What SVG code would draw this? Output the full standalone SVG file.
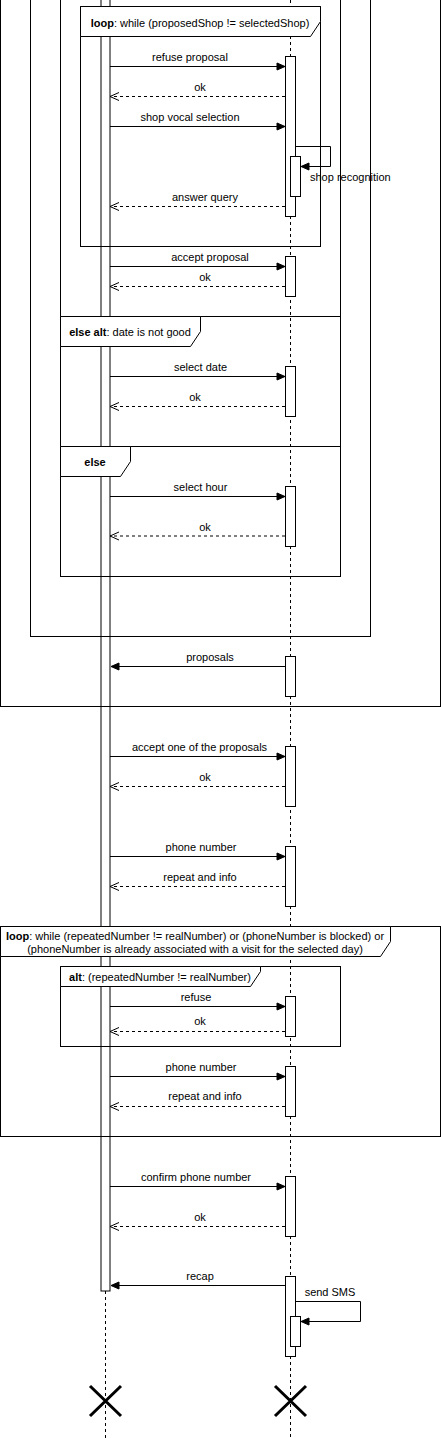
<svg xmlns="http://www.w3.org/2000/svg" width="441" height="1438" viewBox="0 0 441 1438">
<style>
.life{stroke:#000;stroke-width:1;stroke-dasharray:3 3;fill:none}
.bar{fill:#fff;stroke:#000;stroke-width:1}
.act{fill:#fff;stroke:#000;stroke-width:1}
.frame{fill:none;stroke:#000;stroke-width:1}
.hdr{fill:#fff;stroke:#000;stroke-width:1}
.msg{fill:none;stroke:#000;stroke-width:1;marker-end:url(#fill)}
.ret{fill:none;stroke:#000;stroke-width:1;stroke-dasharray:3 3;marker-end:url(#open)}
.x{stroke:#000;stroke-width:3;fill:none}
text{font-family:"Liberation Sans",Arial,Helvetica,sans-serif;font-size:11px;fill:#000}
.c{text-anchor:middle}
.b{font-weight:bold}
</style>
<defs>
<marker id="fill" markerUnits="userSpaceOnUse" markerWidth="10" markerHeight="9" refX="8" refY="3.5" orient="auto" overflow="visible">
<path d="M0,0 L8,3.5 L0,7 Z" fill="#000" stroke="#000" stroke-width="1"/>
</marker>
<marker id="open" markerUnits="userSpaceOnUse" markerWidth="11" markerHeight="10" refX="9" refY="4" orient="auto" overflow="visible">
<path d="M0,0 L9,4 L0,8" fill="none" stroke="#000" stroke-width="1"/>
</marker>
</defs>

<g id="lifeline-user">
<line class="life" x1="105.5" y1="1291" x2="105.5" y2="1438"/>
<rect class="bar" x="101" y="-10" width="9" height="1301"/>
<path class="x" d="M90,1386 L121,1416 M121,1386 L90,1416"/>
</g>
<g id="lifeline-system">
<line class="life" x1="290.5" y1="0" x2="290.5" y2="1438"/>
<path class="x" d="M275,1386 L306,1416 M306,1386 L275,1416"/>
</g>

<g id="frame-outer">
<rect class="frame" x="0.5" y="-20" width="440" height="726.5"/>
</g>
<g id="frame-second">
<rect class="frame" x="30.5" y="-20" width="340" height="656.5"/>
</g>
<g id="frame-alt-date">
<rect class="frame" x="60.5" y="-20" width="280" height="596.5"/>
<line class="frame" x1="60.5" y1="316.5" x2="340.5" y2="316.5"/>
<line class="frame" x1="60.5" y1="446.5" x2="340.5" y2="446.5"/>
<polygon class="hdr" points="60.5,316.5 200.5,316.5 200.5,331.5 190.5,346.5 60.5,346.5"/>
<text class="c" x="130" y="336"><tspan class="b">else alt</tspan>: date is not good</text>
<polygon class="hdr" points="60.5,446.5 130.5,446.5 130.5,461.5 120.5,476.5 60.5,476.5"/>
<text class="c b" x="95" y="466">else</text>
</g>
<g id="frame-loop-shop">
<rect class="frame" x="80.5" y="6.5" width="240" height="240"/>
<polygon class="hdr" points="80.5,6.5 320.5,6.5 320.5,21.5 310.5,36.5 80.5,36.5"/>
<text class="c" x="200" y="26.5"><tspan class="b">loop</tspan>: while (proposedShop != selectedShop)</text>
</g>
<g id="frame-loop-phone">
<rect class="frame" x="0.5" y="926.5" width="440" height="210"/>
<polygon class="hdr" points="0.5,926.5 390.5,926.5 390.5,941.5 380.5,956.5 0.5,956.5"/>
<text class="c" x="195" y="939.5"><tspan class="b">loop</tspan>: while (repeatedNumber != realNumber) or (phoneNumber is blocked) or</text>
<text class="c" x="195" y="953">(phoneNumber is already associated with a visit for the selected day)</text>
</g>
<g id="frame-alt-number">
<rect class="frame" x="60.5" y="966.5" width="280" height="80"/>
<polygon class="hdr" points="60.5,966.5 260.5,966.5 260.5,971.5 250.5,986.5 60.5,986.5"/>
<text class="c" x="160" y="981"><tspan class="b">alt</tspan>: (repeatedNumber != realNumber)</text>
</g>

<g id="activations">
<rect class="act" x="285.5" y="56.5" width="10" height="160"/>
<rect class="act" x="290.5" y="156.5" width="10" height="40"/>
<rect class="act" x="285.5" y="256.5" width="10" height="40"/>
<rect class="act" x="285.5" y="366.5" width="10" height="50"/>
<rect class="act" x="285.5" y="486.5" width="10" height="60"/>
<rect class="act" x="285.5" y="656.5" width="10" height="40"/>
<rect class="act" x="285.5" y="746.5" width="10" height="60"/>
<rect class="act" x="285.5" y="846.5" width="10" height="60"/>
<rect class="act" x="285.5" y="996.5" width="10" height="40"/>
<rect class="act" x="285.5" y="1066.5" width="10" height="50"/>
<rect class="act" x="285.5" y="1176.5" width="10" height="60"/>
<rect class="act" x="285.5" y="1276.5" width="10" height="80"/>
<rect class="act" x="290.5" y="1316.5" width="10" height="30"/>
</g>

<g id="connectors">
<line class="msg" x1="110" y1="66.5" x2="285" y2="66.5"/>
<line class="ret" x1="285" y1="96.5" x2="110" y2="96.5"/>
<line class="msg" x1="110" y1="126.5" x2="285" y2="126.5"/>
<path class="msg" d="M295.5,146.5 H330.5 V166.5 H301"/>
<line class="ret" x1="285" y1="206.5" x2="110" y2="206.5"/>
<line class="msg" x1="110" y1="266.5" x2="285" y2="266.5"/>
<line class="ret" x1="285" y1="286.5" x2="110" y2="286.5"/>
<line class="msg" x1="110" y1="376.5" x2="285" y2="376.5"/>
<line class="ret" x1="285" y1="406.5" x2="110" y2="406.5"/>
<line class="msg" x1="110" y1="496.5" x2="285" y2="496.5"/>
<line class="ret" x1="285" y1="536" x2="110" y2="536"/>
<line class="msg" x1="285" y1="666.5" x2="111" y2="666.5"/>
<line class="msg" x1="110" y1="756.5" x2="285" y2="756.5"/>
<line class="ret" x1="285" y1="786.5" x2="110" y2="786.5"/>
<line class="msg" x1="110" y1="856.5" x2="285" y2="856.5"/>
<line class="ret" x1="285" y1="886.5" x2="110" y2="886.5"/>
<line class="msg" x1="110" y1="1006.5" x2="285" y2="1006.5"/>
<line class="ret" x1="285" y1="1031.5" x2="110" y2="1031.5"/>
<line class="msg" x1="110" y1="1076.5" x2="285" y2="1076.5"/>
<line class="ret" x1="285" y1="1106.5" x2="110" y2="1106.5"/>
<line class="msg" x1="110" y1="1186.5" x2="285" y2="1186.5"/>
<line class="ret" x1="285" y1="1226.5" x2="110" y2="1226.5"/>
<line class="msg" x1="285" y1="1285.5" x2="111" y2="1285.5"/>
<path class="msg" d="M295.5,1301.5 H360.5 V1321.5 H301"/>
</g>

<g id="labels">
<text class="c" x="190" y="61">refuse proposal</text>
<text class="c" x="200" y="91">ok</text>
<text class="c" x="190" y="121">shop vocal selection</text>
<text x="310" y="181">shop recognition</text>
<text class="c" x="205" y="201">answer query</text>
<text class="c" x="210" y="261">accept proposal</text>
<text class="c" x="205" y="281">ok</text>
<text class="c" x="200.5" y="371">select date</text>
<text class="c" x="195" y="401">ok</text>
<text class="c" x="200.5" y="491">select hour</text>
<text class="c" x="205" y="530.5">ok</text>
<text class="c" x="210" y="661">proposals</text>
<text class="c" x="199.5" y="751">accept one of the proposals</text>
<text class="c" x="205" y="781">ok</text>
<text class="c" x="201" y="851">phone number</text>
<text class="c" x="200" y="881">repeat and info</text>
<text class="c" x="196" y="1001">refuse</text>
<text class="c" x="200" y="1025">ok</text>
<text class="c" x="201" y="1071">phone number</text>
<text class="c" x="205" y="1100">repeat and info</text>
<text class="c" x="196" y="1181">confirm phone number</text>
<text class="c" x="200" y="1221">ok</text>
<text class="c" x="200" y="1280">recap</text>
<text class="c" x="330" y="1296">send SMS</text>
</g>
</svg>
